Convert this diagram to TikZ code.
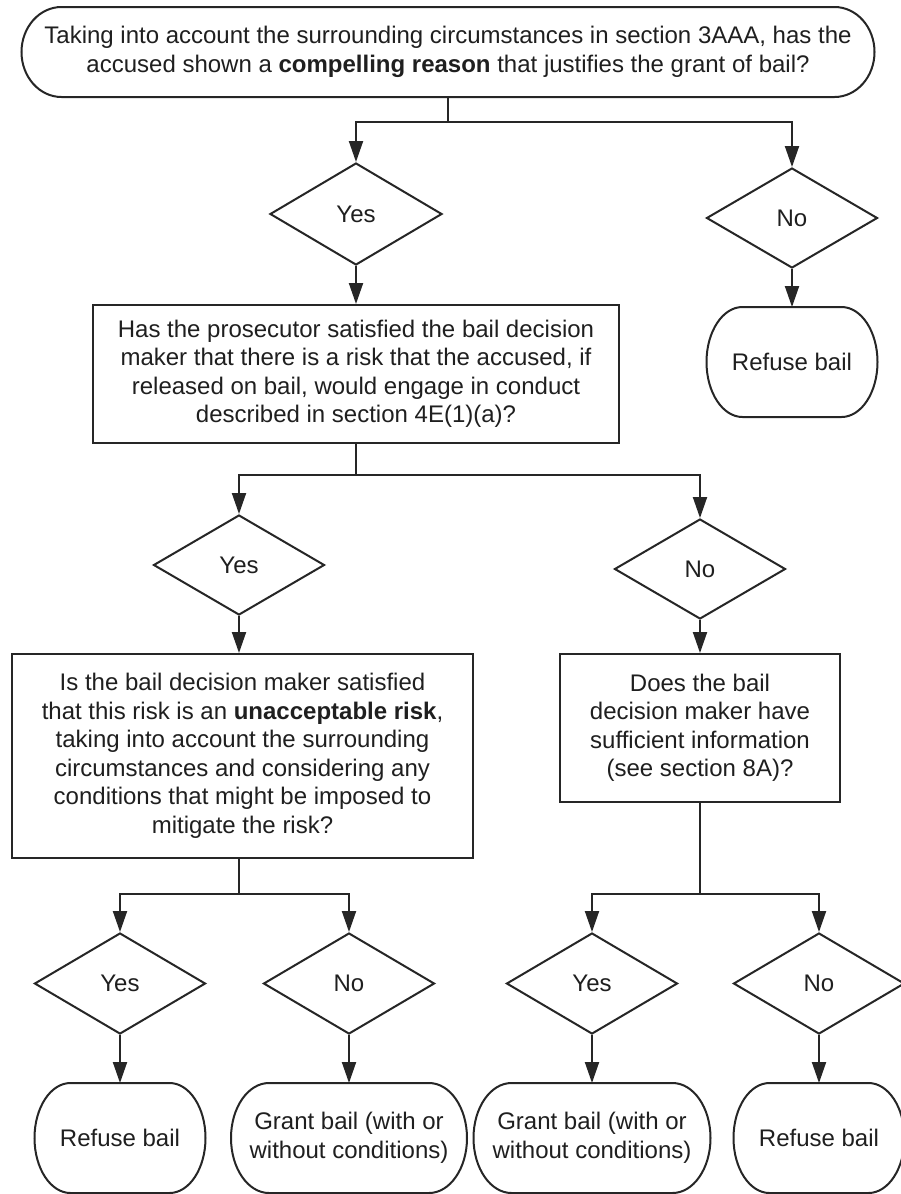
\documentclass[tikz,border=0pt]{standalone}
\usepackage{fontspec}
\setmainfont{Liberation Sans}
\usetikzlibrary{shapes.geometric,arrows.meta,calc}
\begin{document}
\begin{tikzpicture}[x=1pt,y=1pt,
  ln/.style={line width=2pt, draw=black!85},
  arr/.style={ln, -{Triangle[length=21pt,width=14pt]}},
  txt/.style={font=\fontsize{24}{28.5}\selectfont, text=black!88, align=center, inner sep=0pt},
  qbox/.style={txt, rectangle, ln},
  dia/.style={txt, diamond, ln, minimum width=171pt, minimum height=101pt},
  term/.style={txt, rectangle, draw=none, outer sep=0pt}
]
\useasboundingbox (0,0) rectangle (901,-1194);
\fill[white] (0,0) rectangle (901,-1194);

% level 1
\node[term, minimum width=853pt, minimum height=90pt] (T) at (448,-52)
  {Taking into account the surrounding circumstances in section 3AAA, has the\\accused shown a \textbf{compelling reason} that justifies the grant of bail?};
\node[dia, minimum width=172pt, minimum height=102pt] (y1) at (356,-214) {Yes};
\node[dia, minimum height=100pt] (n1) at (792,-218) {No};
\node[term, minimum width=171pt, minimum height=110pt] (r1) at (792,-362) {Refuse bail};
\node[qbox, minimum width=526pt, minimum height=138pt] (b2) at (356,-374)
  {Has the prosecutor satisfied the bail decision\\maker that there is a risk that the accused, if\\released on bail, would engage in conduct\\described in section 4E(1)(a)?};

% level 2
\node[dia, minimum height=100pt] (y2) at (239,-565) {Yes};
\node[dia, minimum height=100pt] (n2) at (700,-569) {No};
\node[qbox, minimum width=461pt, minimum height=204pt] (b3) at (242.5,-756)
  {Is the bail decision maker satisfied\\that this risk is an \textbf{unacceptable risk},\\taking into account the surrounding\\circumstances and considering any\\conditions that might be imposed to\\mitigate the risk?};
\node[qbox, minimum width=280pt, minimum height=148pt] (b4) at (700,-728)
  {Does the bail\\decision maker have\\sufficient information\\(see section 8A)?};

% level 3
\node[dia] (d1) at (120,-983.5) {Yes};
\node[dia] (d2) at (349,-983.5) {No};
\node[dia] (d3) at (592,-983.5) {Yes};
\node[dia] (d4) at (819,-983.5) {No};
\node[term, minimum width=171pt, minimum height=110pt] (t1) at (120,-1138) {Refuse bail};
\node[term, minimum width=236pt, minimum height=110pt] (t2) at (349,-1138) {Grant bail (with or\\without conditions)};
\node[term, minimum width=237pt, minimum height=110pt] (t3) at (592,-1138) {Grant bail (with or\\without conditions)};
\node[term, minimum width=171pt, minimum height=110pt] (t4) at (819,-1138) {Refuse bail};

% terminator outlines
\foreach \n/\rx/\ry in {T/40/45, r1/36/55, t1/36/55, t2/38/55, t3/38/55, t4/36/55}
  \draw[ln] ([xshift=\rx pt]\n.north west) -- ([xshift=-\rx pt]\n.north east)
    arc[start angle=90, end angle=-90, x radius=\rx pt, y radius=\ry pt]
    -- ([xshift=\rx pt]\n.south west)
    arc[start angle=270, end angle=90, x radius=\rx pt, y radius=\ry pt] -- cycle;

% connectors
\draw[ln] (T.south) -- ++(0,-25) coordinate (j1);
\draw[arr] (j1) -| (y1.north);
\draw[arr] (j1) -| (n1.north);
\draw[arr] (y1.south) -- (b2.north);
\draw[arr] (n1.south) -- (r1.north);

\draw[ln] (b2.south) -- ++(0,-31) coordinate (j2);
\draw[arr] (j2) -| (y2.north);
\draw[arr] (j2) -| (n2.north);
\draw[arr] (y2.south) -- (y2.south |- b3.north);
\draw[arr] (n2.south) -- (b4.north);

\draw[ln] (y2.south |- b3.south) -- ++(0,-35) coordinate (j3);
\draw[arr] (j3) -| (d1.north);
\draw[arr] (j3) -| (d2.north);
\draw[ln] (b4.south) -- ++(0,-91) coordinate (j4);
\draw[arr] (j4) -| (d3.north);
\draw[arr] (j4) -| (d4.north);

\draw[arr] (d1.south) -- (t1.north);
\draw[arr] (d2.south) -- (t2.north);
\draw[arr] (d3.south) -- (t3.north);
\draw[arr] (d4.south) -- (t4.north);
\end{tikzpicture}
\end{document}
